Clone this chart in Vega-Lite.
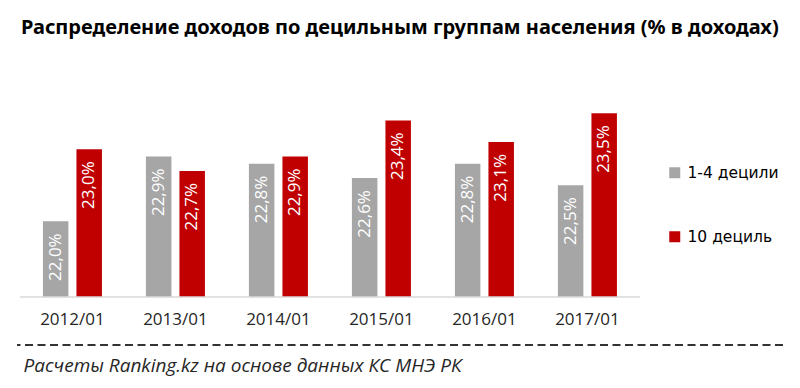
{
  "$schema": "https://vega.github.io/schema/vega-lite/v6.json",
  "width": 766,
  "height": 249,
  "autosize": {"type": "none"},
  "padding": {"left": 17, "top": 48, "right": 17, "bottom": 91},
  "background": "white",
  "config": {"view": {"stroke": null}},
  "title": {
    "text": "Распределение доходов по децильным  группам  населения (% в доходах)",
    "anchor": "start",
    "dx": 5,
    "font": "Noto Sans",
    "fontSize": 20,
    "fontWeight": "bold",
    "color": "#000000",
    "offset": 10
  },
  "data": {
    "values": [
      {"period": "2012/01", "series": "1-4 децили", "value": 22.0, "label": "22,0%"},
      {"period": "2012/01", "series": "10 дециль", "value": 23.0, "label": "23,0%"},
      {"period": "2013/01", "series": "1-4 децили", "value": 22.9, "label": "22,9%"},
      {"period": "2013/01", "series": "10 дециль", "value": 22.7, "label": "22,7%"},
      {"period": "2014/01", "series": "1-4 децили", "value": 22.8, "label": "22,8%"},
      {"period": "2014/01", "series": "10 дециль", "value": 22.9, "label": "22,9%"},
      {"period": "2015/01", "series": "1-4 децили", "value": 22.6, "label": "22,6%"},
      {"period": "2015/01", "series": "10 дециль", "value": 23.4, "label": "23,4%"},
      {"period": "2016/01", "series": "1-4 децили", "value": 22.8, "label": "22,8%"},
      {"period": "2016/01", "series": "10 дециль", "value": 23.1, "label": "23,1%"},
      {"period": "2017/01", "series": "1-4 децили", "value": 22.5, "label": "22,5%"},
      {"period": "2017/01", "series": "10 дециль", "value": 23.5, "label": "23,5%"}
    ]
  },
  "layer": [
    {
      "mark": {"type": "bar"},
      "encoding": {
        "x": {
          "field": "period",
          "type": "nominal",
          "scale": {"paddingInner": 0.427, "paddingOuter": 0.932, "align": 0.135},
          "axis": {
            "title": "Расчеты Ranking.kz на основе данных  КС МНЭ РК",
            "labelAngle": 0,
            "labelFont": "Open Sans",
            "labelFontSize": 17,
            "labelColor": "#262626",
            "labelPadding": 14,
            "domain": false,
            "ticks": false,
            "grid": false,
            "titleFont": "Open Sans",
            "titleFontStyle": "italic",
            "titleFontWeight": "normal",
            "titleFontSize": 19,
            "titleColor": "#262626",
            "titleAnchor": "start",
            "titleAlign": "left",
            "titlePadding": 29,
            "titleX": 6
          }
        },
        "xOffset": {
          "field": "series",
          "type": "nominal",
          "scale": {"paddingInner": 0.24, "domain": ["1-4 децили", "10 дециль"]}
        },
        "y": {
          "field": "value",
          "type": "quantitative",
          "scale": {"domain": [20.95, 24.405], "zero": false, "nice": false},
          "axis": null
        },
        "y2": {"datum": 20.95},
        "color": {
          "field": "series",
          "type": "nominal",
          "scale": {"domain": ["1-4 децили", "10 дециль"], "range": ["#a6a6a6", "#c00000"]},
          "legend": {
            "orient": "none",
            "legendX": 650,
            "legendY": 117,
            "title": null,
            "symbolType": "square",
            "symbolSize": 121,
            "symbolStrokeWidth": 0,
            "labelFont": "DejaVu Sans",
            "labelFontSize": 15.5,
            "labelColor": "#000000",
            "rowPadding": 47,
            "labelOffset": 5,
            "padding": 0
          }
        }
      }
    },
    {
      "mark": {"type": "text", "angle": 270, "align": "right", "baseline": "middle", "dx": -12, "font": "Open Sans", "fontSize": 17, "color": "#ffffff"},
      "encoding": {
        "x": {"field": "period", "type": "nominal"},
        "xOffset": {"field": "series", "type": "nominal"},
        "y": {"field": "value", "type": "quantitative"},
        "text": {"field": "label"}
      }
    },
    {
      "data": {"values": [{"a": "2012/01", "b": "2017/01", "base": 20.95}]},
      "mark": {"type": "rule", "color": "#d9d9d9", "strokeWidth": 1.5},
      "encoding": {
        "x": {"field": "a", "type": "nominal", "bandPosition": -0.39},
        "x2": {"field": "b", "bandPosition": 1.39},
        "y": {"field": "base", "type": "quantitative"}
      }
    },
    {
      "data": {"values": [{"line": 20.284}]},
      "mark": {"type": "rule", "color": "#333333", "strokeWidth": 2, "strokeDash": [8, 4.5]},
      "encoding": {
        "y": {"field": "line", "type": "quantitative"}
      }
    }
  ]
}
